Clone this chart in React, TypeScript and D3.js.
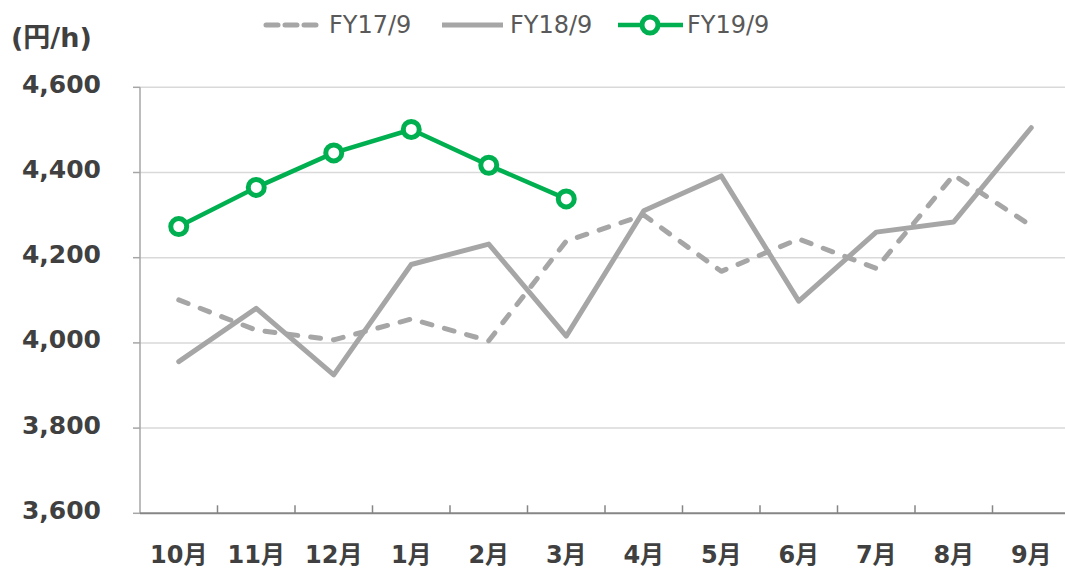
import React from "react";
import * as d3 from "d3";

const categories = ["10月", "11月", "12月", "1月", "2月", "3月", "4月", "5月", "6月", "7月", "8月", "9月"];
const fy17: number[] = [4101, 4030, 4007, 4056, 4005, 4239, 4300, 4168, 4244, 4175, 4394, 4275];
const fy18: number[] = [3956, 4081, 3925, 4184, 4232, 4016, 4310, 4392, 4098, 4260, 4284, 4505];
const fy19: number[] = [4273, 4365, 4446, 4501, 4417, 4338];
const yTicks = [3600, 3800, 4000, 4200, 4400, 4600];
const legendLabels = ["FY17/9", "FY18/9", "FY19/9"];

const W = 1065;
const H = 569;
const left = 140;
const right = 1070;
const top = 87.3;
const bottom = 513.3;
const GREY = "#A6A6A6";
const GREEN = "#00B050";
const TEXT = "#404040";
const FONT = "'DejaVu Sans', Verdana, 'Noto Sans CJK JP', sans-serif";

export default function App() {
  const x = d3.scaleBand<string>().domain(categories).range([left, right]).padding(0);
  const y = d3.scaleLinear().domain([3600, 4600]).range([bottom, top]);
  const cx = (i: number) => (x(categories[i]) as number) + x.bandwidth() / 2;
  const line = d3
    .line<number>()
    .x((_, i) => cx(i))
    .y((d) => y(d));
  const fmt = d3.format(",");

  return (
    <svg
      width={W}
      height={H}
      style={{ position: "absolute", left: 0, top: 0, display: "block", background: "#fff" }}
      fontFamily={FONT}
    >
      {yTicks.slice(1).map((t) => (
        <line key={t} x1={left} x2={W} y1={y(t)} y2={y(t)} stroke="#D9D9D9" strokeWidth={1.5} />
      ))}
      <line x1={left} x2={left} y1={top} y2={bottom} stroke="#A6A6A6" strokeWidth={1.5} />
      {yTicks.map((t) => (
        <g key={t}>
          <line x1={left - 7} x2={left} y1={y(t)} y2={y(t)} stroke="#A6A6A6" strokeWidth={1.5} />
          <text
            x={101}
            y={y(t) - 3}
            textAnchor="end"
            dominantBaseline="central"
            fontSize={25}
            fontWeight="bold"
            fill={TEXT}
          >
            {fmt(t)}
          </text>
        </g>
      ))}
      <line x1={left} x2={W} y1={bottom} y2={bottom} stroke="#868686" strokeWidth={2} />
      {categories.map((c, i) => (
        <g key={c}>
          {i > 0 && (
            <line
              x1={x(c) as number}
              x2={x(c) as number}
              y1={bottom}
              y2={bottom - 8}
              stroke="#868686"
              strokeWidth={1.5}
            />
          )}
          <text
            x={cx(i)}
            y={563}
            textAnchor="middle"
            fontSize={24}
            fontWeight="bold"
            fill={TEXT}
          >
            {c}
          </text>
        </g>
      ))}
      <text x={11} y={47} fontSize={27} fontWeight="bold" fill={TEXT}>
        (円/h)
      </text>
      <path
        d={line(fy17) || ""}
        fill="none"
        stroke={GREY}
        strokeWidth={5}
        strokeDasharray="10 13"
        strokeLinecap="round"
        strokeLinejoin="round"
      />
      <path d={line(fy18) || ""} fill="none" stroke={GREY} strokeWidth={5} strokeLinejoin="round" strokeLinecap="round" />
      <path d={line(fy19) || ""} fill="none" stroke={GREEN} strokeWidth={4.5} strokeLinejoin="round" />
      {fy19.map((v, i) => (
        <circle key={i} cx={cx(i)} cy={y(v)} r={8} fill="#fff" stroke={GREEN} strokeWidth={5} />
      ))}
      <g fontSize={24} fill="#595959">
        <line x1={266} x2={318} y1={25} y2={25} stroke={GREY} strokeWidth={5} strokeDasharray="12 7" strokeLinecap="round" />
        <text x={329} y={33}>{legendLabels[0]}</text>
        <line x1={442} x2={503} y1={25} y2={25} stroke={GREY} strokeWidth={5} />
        <text x={510} y={33}>{legendLabels[1]}</text>
        <line x1={618} x2={683} y1={25} y2={25} stroke={GREEN} strokeWidth={4.5} />
        <circle cx={650} cy={25} r={8} fill="#fff" stroke={GREEN} strokeWidth={5} />
        <text x={687} y={33}>{legendLabels[2]}</text>
      </g>
    </svg>
  );
}
